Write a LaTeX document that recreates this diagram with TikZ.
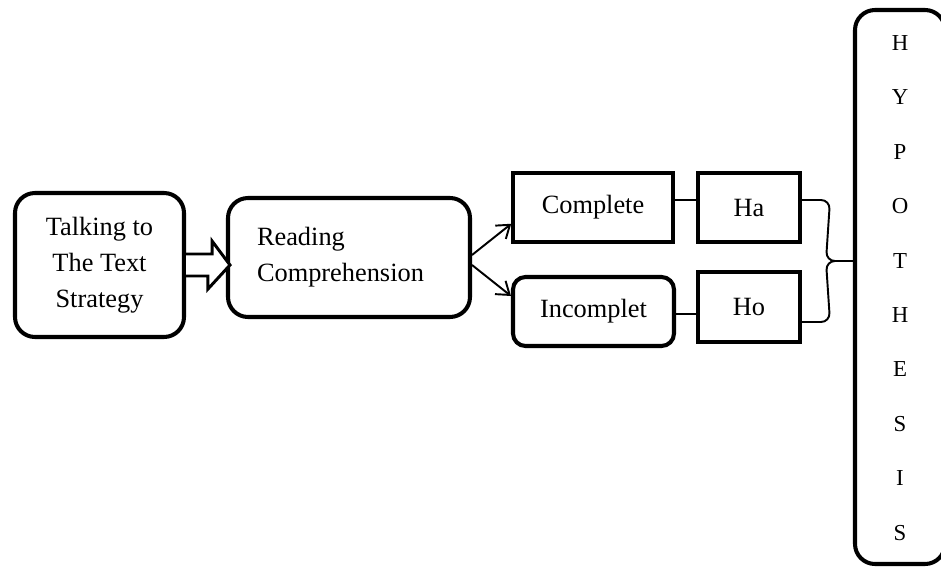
\documentclass[tikz,border=0pt]{standalone}
\usepackage{fontspec}
\setmainfont{Liberation Serif}
\usetikzlibrary{arrows.meta,positioning,calc}

\begin{document}
\begin{tikzpicture}[
  font=\fontsize{15}{20.5}\selectfont,
  roundbox/.style={draw=black,line width=2.3pt,rounded corners=0.4cm,
    align=center,inner sep=0pt},
  plainbox/.style={draw=black,line width=2.3pt,align=center,inner sep=0pt,
    minimum height=1.38cm},
  thinarrow/.style={-{Straight Barb[length=0.24cm,width=0.34cm]},line width=1.1pt},
  link/.style={line width=1.1pt},
  blockarrow/.style={draw=black,fill=white,line width=1.7pt,line join=miter}
]
\useasboundingbox (0,0) rectangle (18.82,-11.34);

\node[roundbox,minimum width=3.38cm,minimum height=2.88cm] (talk) at (1.99,-5.30)
  {Talking to\\The Text\\Strategy};
\node[roundbox,minimum width=4.84cm,minimum height=2.38cm,
  text width=3.68cm,align=left] (read) at (6.98,-5.15)
  {Reading\\Comprehension\\[0.2cm]};
\node[plainbox,line width=2pt,minimum width=3.2cm] (complete) at (11.86,-4.15) {Complete};
\node[plainbox,minimum width=2.04cm] (ha) at (14.98,-4.15) {Ha};
\node[roundbox,rounded corners=0.25cm,minimum width=3.22cm,minimum height=1.38cm]
  (incomplete) at (11.87,-6.23) {Incomplet};
\node[plainbox,minimum width=2.04cm,minimum height=1.40cm] (ho) at (14.98,-6.14) {Ho};
\node[roundbox,minimum width=1.8cm,minimum height=11.08cm] (hyp) at (18.0,-5.74) {};

% letters of the hypothesis column
\foreach \letter [count=\i from 0] in {H,Y,P,O,T,H,E,S,I,S}
  \node[font=\fontsize{13}{15}\selectfont] at (18.0,-0.86-\i*1.088) {\letter};

% hollow block arrow
\draw[blockarrow] ([yshift=0.22cm]talk.east) -- ++(0.52,0) -- ++(0,0.26)
  -- ($(read.west |- talk.east)+(0.08,0)$) -- ++(-0.44,-0.48) -- ++(0,0.26)
  -- ([yshift=-0.22cm]talk.east);

\draw[thinarrow] ([yshift=0.05cm]read.east) -- ([yshift=0.4cm]complete.south west);
\draw[thinarrow] ([yshift=-0.15cm]read.east) -- ([yshift=-0.42cm]incomplete.north west);

\draw[link] ([yshift=0.15cm]complete.east) -- ([yshift=0.15cm]ha.west);
\draw[link] ([yshift=-0.05cm]incomplete.east) -- ([yshift=-0.05cm]incomplete.east -| ho.west);

% brace
\coordinate (bracetop) at ([yshift=0.15cm]ha.east);
\coordinate (bracebot) at ([yshift=-0.3cm]ho.east);
\coordinate (bracetip) at ($(bracetop)!0.5!(bracebot)$);
\coordinate (bracetip) at (bracetip -| hyp.west);
\draw[link,rounded corners=0.18cm] (bracetop) -- ++(0.56,0)
  -- ($(bracetip)+(-0.54,0)$) -- (bracetip);
\draw[link,rounded corners=0.18cm] (bracebot) -- ++(0.56,0)
  -- ($(bracetip)+(-0.54,0)$) -- (bracetip);
\end{tikzpicture}
\end{document}
